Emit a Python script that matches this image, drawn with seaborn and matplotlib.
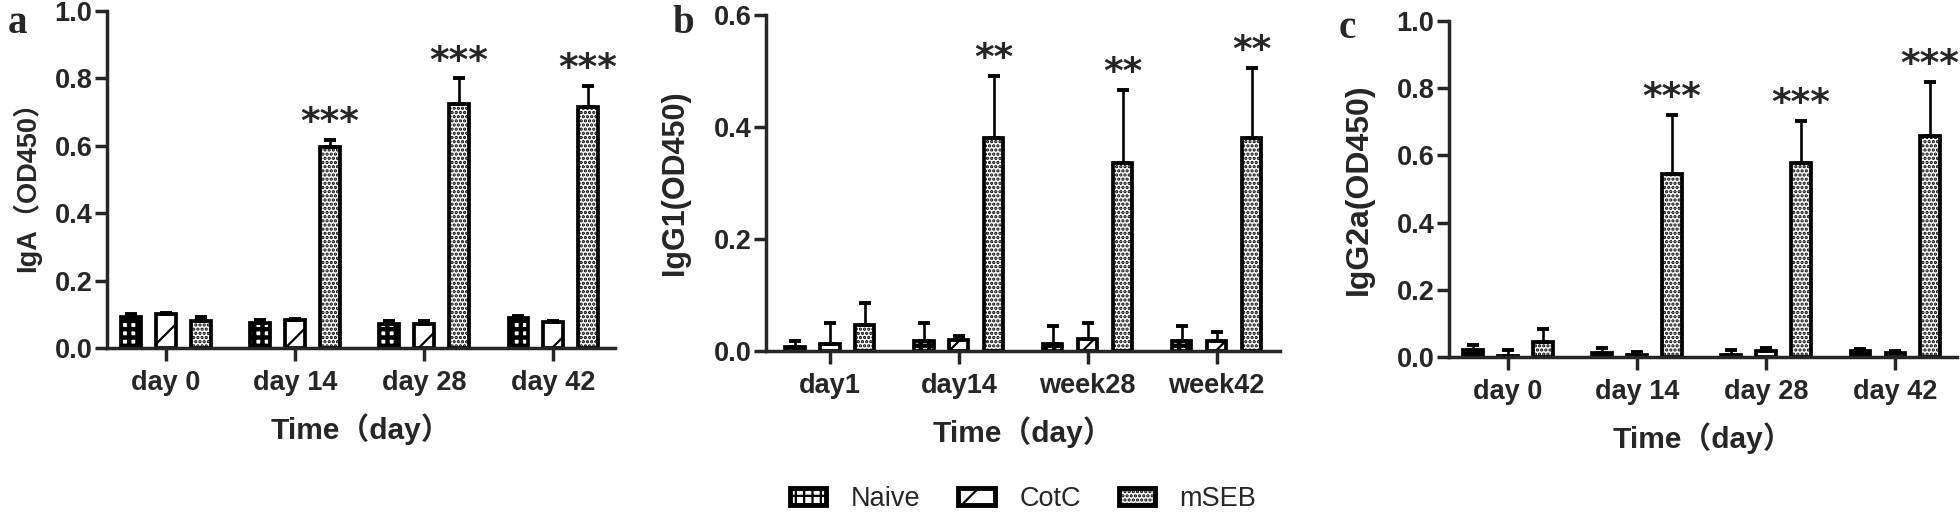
import numpy as np
import pandas as pd
import matplotlib
matplotlib.use('Agg')
import matplotlib.pyplot as plt
import matplotlib.patches as mpatches
import seaborn as sns

grupos = ['Naive', 'CotC', 'mSEB']
hachuras = ['++', '/', '....']

tempos_a = ['day 0', 'day 14', 'day 28', 'day 42']
tempos_b = ['day1', 'day14', 'week28', 'week42']
tempos_c = ['day 0', 'day 14', 'day 28', 'day 42']

# IgA
naive_a = [0.092, 0.074, 0.071, 0.089]
cotc_a = [0.102, 0.082, 0.071, 0.076]
mseb_a = [0.079, 0.596, 0.723, 0.716]
naive_a_err = [0.009, 0.010, 0.010, 0.007]
cotc_a_err = [0.003, 0.004, 0.010, 0.005]
mseb_a_err = [0.012, 0.022, 0.077, 0.062]
sig_a = ['', '***', '***', '***']

# IgG1
naive_b = [0.007, 0.018, 0.012, 0.018]
cotc_b = [0.012, 0.020, 0.022, 0.018]
mseb_b = [0.046, 0.381, 0.336, 0.380]
naive_b_err = [0.010, 0.032, 0.032, 0.027]
cotc_b_err = [0.038, 0.006, 0.028, 0.016]
mseb_b_err = [0.039, 0.110, 0.130, 0.126]
sig_b = ['', '**', '**', '**']

# IgG2a
naive_c = [0.022, 0.012, 0.007, 0.017]
cotc_c = [0.004, 0.007, 0.017, 0.012]
mseb_c = [0.044, 0.545, 0.578, 0.657]
naive_c_err = [0.015, 0.015, 0.013, 0.008]
cotc_c_err = [0.016, 0.007, 0.010, 0.005]
mseb_c_err = [0.039, 0.175, 0.125, 0.162]
sig_c = ['', '***', '***', '***']

sns.set_style('ticks')
plt.rcParams['font.family'] = ['Liberation Sans', 'Noto Sans CJK SC']
plt.rcParams['hatch.linewidth'] = 1.6
plt.rcParams['axes.linewidth'] = 2.5

paineis = [
    dict(letra='a', tempos=tempos_a, vals=[naive_a, cotc_a, mseb_a],
         errs=[naive_a_err, cotc_a_err, mseb_a_err], sig=sig_a,
         ylabel='IgA（OD450）', ymax=1.0, ylsize=19.5, ylpad=10,
         rect=[0.0546, 0.3203, 0.2592, 0.6582], xlim=(-0.457, 3.48),
         letra_xy=(0.004, 0.955)),
    dict(letra='b', tempos=tempos_b, vals=[naive_b, cotc_b, mseb_b],
         errs=[naive_b_err, cotc_b_err, mseb_b_err], sig=sig_b,
         ylabel='IgG1(OD450)', ymax=0.6, ylsize=22, ylpad=17,
         rect=[0.3908, 0.3145, 0.2622, 0.6563], xlim=(-0.496, 3.49),
         letra_xy=(0.343, 0.955)),
    dict(letra='c', tempos=tempos_c, vals=[naive_c, cotc_c, mseb_c],
         errs=[naive_c_err, cotc_c_err, mseb_c_err], sig=sig_c,
         ylabel='IgG2a(OD450)', ymax=1.0, ylsize=23, ylpad=16,
         rect=[0.7393, 0.3027, 0.2592, 0.6563], xlim=(-0.457, 3.48),
         letra_xy=(0.683, 0.945)),
]

fig = plt.figure(figsize=(19.6, 5.12), dpi=100)

for p in paineis:
    ax = fig.add_axes(p['rect'])
    linhas = []
    for g, v in zip(grupos, p['vals']):
        for t, val in zip(p['tempos'], v):
            linhas.append({'Tempo': t, 'Grupo': g, 'OD': val})
    df = pd.DataFrame(linhas)

    sns.barplot(data=df, x='Tempo', y='OD', hue='Grupo',
                order=p['tempos'], hue_order=grupos,
                palette=['white'] * 3, edgecolor='black', linewidth=2.7,
                width=0.813, gap=0.45, errorbar=None, legend=False, ax=ax)
    barras = list(ax.containers)

    # hachuras + barras de erro só para cima
    for cont, hach, err in zip(barras, hachuras, p['errs']):
        xs, ys = [], []
        for bar in cont:
            bar.set_hatch(hach)
            if hach == '++' and hasattr(bar, 'set_hatch_linewidth'):
                bar.set_hatch_linewidth(3.2)
            xs.append(bar.get_x() + bar.get_width() / 2)
            ys.append(bar.get_height())
        ax.errorbar(xs, ys, yerr=[np.zeros(len(err)), err], fmt='none',
                    ecolor='black', elinewidth=1.9, capsize=4.5, capthick=2.8,
                    zorder=1)

    # asteriscos acima do mSEB
    for bar, e, s in zip(barras[-1], p['errs'][-1], p['sig']):
        if s:
            ax.annotate(s, (bar.get_x() + bar.get_width() / 2, bar.get_height() + e),
                        xytext=(0, -1), textcoords='offset points',
                        ha='center', va='bottom', fontsize=27,
                        fontweight='bold', family='DejaVu Sans')

    ax.set_ylim(0, p['ymax'])
    ax.set_xlim(*p['xlim'])
    ax.set_yticks(np.arange(0, p['ymax'] + 0.01, 0.2))
    ax.yaxis.set_major_formatter(matplotlib.ticker.FormatStrFormatter('%.1f'))
    ax.tick_params(axis='y', length=8.5, width=2.5, pad=2, labelsize=19.5)
    ax.tick_params(axis='x', length=9.5, width=2.5, pad=6, labelsize=19.5)
    for lab in ax.get_xticklabels() + ax.get_yticklabels():
        lab.set_fontweight('bold')
    sns.despine(ax=ax)

    ax.set_xlabel('Time（day）', fontsize=21.5, fontweight='bold', labelpad=13)
    ax.set_ylabel(p['ylabel'], fontsize=p['ylsize'], fontweight='bold',
                  labelpad=p['ylpad'])

    fig.text(p['letra_xy'][0], p['letra_xy'][1], p['letra'], fontsize=28,
             fontweight='bold', family='Liberation Serif', va='center')

handles = [mpatches.Patch(facecolor='white', edgecolor='black', linewidth=3.5,
                          hatch=h, label=g) for g, h in zip(grupos, hachuras)]
fig.legend(handles=handles, loc='center', bbox_to_anchor=(0.522, 0.025),
           ncol=3, frameon=False, fontsize=19.5, handlelength=1.35,
           handleheight=0.55, handletextpad=0.9, columnspacing=1.4)

plt.savefig('out.png', dpi=100)
